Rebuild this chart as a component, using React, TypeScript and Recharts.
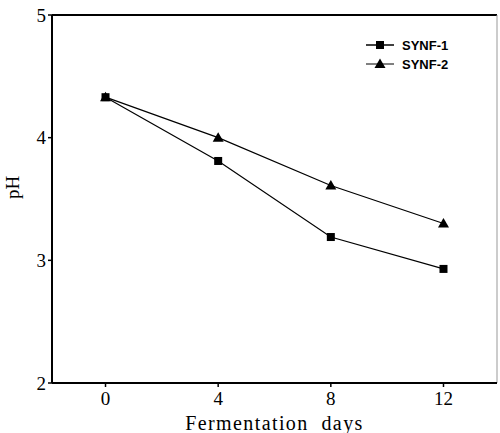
import React from 'react';
import { LineChart, Line, XAxis, YAxis, ReferenceLine } from 'recharts';

const days = [0, 4, 8, 12];
const synf1 = [4.33, 3.81, 3.19, 2.93];
const synf2 = [4.33, 4.0, 3.61, 3.3];
const xTicks = [0, 4, 8, 12];
const yTicks = [2, 3, 4, 5];

const data = days.map((d, i) => ({ day: d, synf1: synf1[i], synf2: synf2[i] }));

const serif = '"Liberation Serif", "DejaVu Serif", serif';
const sans = '"Liberation Sans", Arial, sans-serif';

const Square = (props: any) => {
  const { cx, cy, index } = props;
  return <rect key={`sq-${index}`} x={cx - 4} y={cy - 4} width={8} height={8} fill="#000" />;
};

const Triangle = (props: any) => {
  const { cx, cy, index } = props;
  return (
    <path
      key={`tr-${index}`}
      d={`M${cx},${cy - 5.5} L${cx + 5.5},${cy + 4} L${cx - 5.5},${cy + 4} Z`}
      fill="#000"
    />
  );
};

// legend drawn as an overlay so it doesn't eat plot height
const LegendBox = () => (
  <svg width={100} height={40} style={{ position: 'absolute', left: 366, top: 37, overflow: 'visible' }}>
    <line x1={0} y1={8} x2={28} y2={8} stroke="#000" strokeWidth={1.5} />
    <rect x={10} y={4} width={8} height={8} fill="#000" />
    <text x={36} y={13} fontFamily={sans} fontWeight="bold" fontSize={13}>SYNF-1</text>
    <line x1={0} y1={27} x2={28} y2={27} stroke="#000" strokeWidth={1} />
    <path d="M14,21.5 L19.5,31 L8.5,31 Z" fill="#000" />
    <text x={36} y={32} fontFamily={sans} fontWeight="bold" fontSize={13}>SYNF-2</text>
  </svg>
);

export default function App() {
  return (
    <div style={{ position: 'absolute', left: 0, top: 0, width: 500, height: 433, background: '#fff' }}>
      <LineChart width={500} height={433} data={data} margin={{ top: 15, right: 3, bottom: 0, left: 0 }}>
        <XAxis
          dataKey="day"
          type="number"
          domain={[-1.9, 13.9]}
          ticks={xTicks}
          allowDataOverflow
          height={50}
          axisLine={{ stroke: '#000', strokeWidth: 2 }}
          tickLine={{ stroke: '#000', strokeWidth: 1.5 }}
          tickSize={4}
          tickMargin={5}
          tick={{ fill: '#000', fontSize: 19, fontFamily: serif }}
          label={{
            value: 'Fermentation\u00A0 days',
            position: 'insideBottom',
            offset: 3,
            fill: '#000',
            fontSize: 20,
            fontFamily: serif,
            letterSpacing: 1.4,
          }}
        />
        <YAxis
          type="number"
          domain={[2, 5]}
          ticks={yTicks}
          width={52}
          axisLine={{ stroke: '#000', strokeWidth: 2 }}
          tickLine={{ stroke: '#000', strokeWidth: 1.5 }}
          tickSize={4}
          tick={{ fill: '#000', fontSize: 19, fontFamily: serif }}
          label={{ value: 'pH', angle: -90, position: 'insideLeft', offset: 12, fill: '#000', fontSize: 19, fontFamily: serif }}
        />
        <ReferenceLine y={5} stroke="#000" strokeWidth={2} />
        <ReferenceLine x={13.9} stroke="#999" strokeWidth={1} />
        <Line dataKey="synf1" stroke="#000" strokeWidth={1.2} dot={<Square />} isAnimationActive={false} />
        <Line dataKey="synf2" stroke="#000" strokeWidth={1.2} dot={<Triangle />} isAnimationActive={false} />
      </LineChart>
      <LegendBox />
    </div>
  );
}
